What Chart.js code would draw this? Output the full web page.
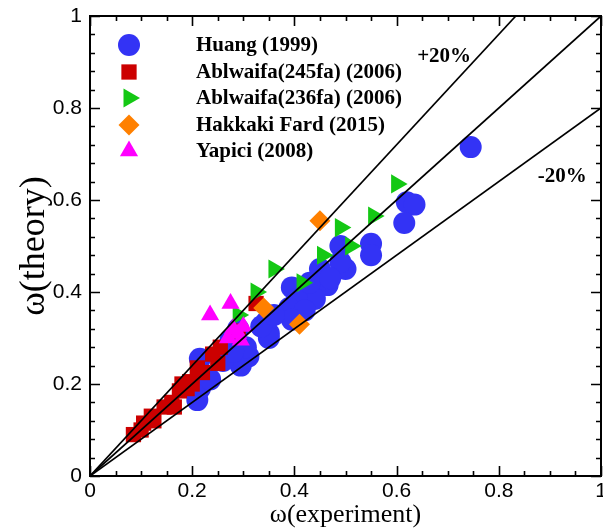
<!DOCTYPE html>
<html><head><meta charset="utf-8">
<script src="https://cdn.jsdelivr.net/npm/chart.js@4.4.0/dist/chart.umd.min.js"></script>
<style>html,body{margin:0;padding:0;background:#fff}#wrap{width:603px;height:528px}</style>
</head><body><div id="wrap"><canvas id="c" width="603" height="528"></canvas></div>
<script>
// ---- data ----
const seriesNames = ['Huang (1999)', 'Ablwaifa(245fa) (2006)', 'Ablwaifa(236fa) (2006)', 'Hakkaki Fard (2015)', 'Yapici (2008)'];
const huangX = [0.745,0.62,0.635,0.615,0.55,0.55,0.49,0.5,0.49,0.45,0.465,0.44,0.44,0.395,0.405,0.39,0.42,0.395,0.35,0.345,0.35,0.335,0.31,0.295,0.305,0.275,0.29,0.22,0.215,0.235,0.21,0.215,0.26,0.28,0.43,0.47,0.36];
const huangY = [0.715,0.595,0.59,0.55,0.505,0.48,0.5,0.45,0.465,0.45,0.415,0.405,0.385,0.41,0.385,0.365,0.36,0.34,0.31,0.335,0.3,0.325,0.26,0.24,0.28,0.295,0.32,0.215,0.19,0.21,0.165,0.255,0.25,0.27,0.42,0.43,0.35];
const abl245X = [0.085,0.1,0.105,0.12,0.125,0.145,0.16,0.165,0.175,0.19,0.195,0.18,0.21,0.22,0.24,0.25,0.255,0.29,0.325,0.2];
const abl245Y = [0.09,0.1,0.115,0.13,0.12,0.15,0.16,0.15,0.185,0.19,0.205,0.2,0.235,0.225,0.265,0.245,0.28,0.315,0.375,0.2];
const abl236X = [0.6,0.555,0.49,0.51,0.455,0.415,0.36,0.325,0.29];
const abl236Y = [0.635,0.565,0.54,0.5,0.48,0.42,0.45,0.4,0.35];
const hakkakiX = [0.45,0.34,0.41];
const hakkakiY = [0.555,0.365,0.33];
const yapiciX = [0.235,0.275,0.28,0.295,0.3,0.27,0.29];
const yapiciY = [0.35,0.375,0.32,0.295,0.325,0.3,0.31];
// reference lines: y = x, y = 1.2x, y = 0.8x
const lineExactX = [0, 1], lineExactY = [0, 1];
const linePlusX = [0, 0.8333], linePlusY = [0, 1];
const lineMinusX = [0, 1], lineMinusY = [0, 0.8];
const bandLabels = ['+20%', '-20%'];
const bandLabelX = [0.693, 0.924];
const bandLabelY = [0.911, 0.652];
const xTickLabels = ['0','0.2','0.4','0.6','0.8','1'];
const yTickLabels = ['0','0.2','0.4','0.6','0.8','1'];

const pts = (xs, ys) => xs.map((x, i) => ({x, y: ys[i]}));

function pointDataset(label, xs, ys, color, style, radius, rotation, order) {
  return {type:'scatter', label, data: pts(xs, ys), backgroundColor: color, borderWidth: 0,
    pointStyle: style, pointRadius: radius, pointRotation: rotation, order};
}
function lineDataset(xs, ys) {
  return {type:'line', data: pts(xs, ys), borderColor:'#000', borderWidth:1.7, pointRadius:0,
    fill:false, tension:0, order:0, isRef:true};
}

const datasets = [
  pointDataset(seriesNames[0], huangX, huangY, '#3333f5', 'circle', 11, 0, 5),
  pointDataset(seriesNames[1], abl245X, abl245Y, '#cc0000', 'rect', 10.8, 0, 4),
  pointDataset(seriesNames[2], abl236X, abl236Y, '#14c814', 'triangle', 11, 90, 3),
  pointDataset(seriesNames[3], hakkakiX, hakkakiY, '#ff8000', 'rectRot', 10.5, 0, 2),
  pointDataset(seriesNames[4], yapiciX, yapiciY, '#ff00ff', 'triangle', 10.5, 0, 1),
  lineDataset(lineExactX, lineExactY),
  lineDataset(linePlusX, linePlusY),
  lineDataset(lineMinusX, lineMinusY)
];

function drawMarker(ctx, style, x, y, r, color, rotDeg) {
  ctx.save();
  ctx.fillStyle = color;
  ctx.translate(x, y);
  ctx.rotate(rotDeg * Math.PI / 180);
  ctx.beginPath();
  if (style === 'circle') ctx.arc(0, 0, r, 0, Math.PI * 2);
  else if (style === 'rect') { const s = r * Math.SQRT1_2; ctx.rect(-s, -s, 2 * s, 2 * s); }
  else if (style === 'rectRot') { ctx.moveTo(0, -r); ctx.lineTo(r, 0); ctx.lineTo(0, r); ctx.lineTo(-r, 0); ctx.closePath(); }
  else if (style === 'triangle') {
    let a = 0;
    ctx.moveTo(Math.sin(a) * r, -Math.cos(a) * r);
    a += 2 * Math.PI / 3; ctx.lineTo(Math.sin(a) * r, -Math.cos(a) * r);
    a += 2 * Math.PI / 3; ctx.lineTo(Math.sin(a) * r, -Math.cos(a) * r);
    ctx.closePath();
  }
  ctx.fill();
  ctx.restore();
}

const framePlugin = {
  id: 'frame',
  afterDatasetsDraw(chart) {
    const ctx = chart.ctx, a = chart.chartArea, xs = chart.scales.x, ys = chart.scales.y;
    ctx.save();
    ctx.strokeStyle = '#000';
    ctx.lineWidth = 2;
    ctx.strokeRect(a.left, a.top, a.right - a.left, a.bottom - a.top);
    ctx.lineWidth = 1.6;
    ctx.beginPath();
    for (let i = 0; i <= 20; i++) {
      const v = i * 0.05, px = Math.round(xs.getPixelForValue(v)) + 0.5;
      const len = (i % 4 === 0) ? 10 : 5;
      ctx.moveTo(px, a.bottom); ctx.lineTo(px, a.bottom - len);
      ctx.moveTo(px, a.top); ctx.lineTo(px, a.top + len);
    }
    for (let i = 0; i <= 25; i++) {
      const v = i * 0.04, py = Math.round(ys.getPixelForValue(v)) + 0.5;
      const len = (i % 5 === 0) ? 10 : 5;
      ctx.moveTo(a.left, py); ctx.lineTo(a.left + len, py);
      ctx.moveTo(a.right, py); ctx.lineTo(a.right - len, py);
    }
    ctx.stroke();
    ctx.restore();
  },
  afterDraw(chart) {
    const ctx = chart.ctx, xs = chart.scales.x, ys = chart.scales.y;
    ctx.save();
    ctx.fillStyle = '#000';
    ctx.font = 'bold 21px "Liberation Serif", "Times New Roman", serif';
    ctx.textBaseline = 'middle';
    ctx.textAlign = 'center';
    bandLabels.forEach((t, i) => ctx.fillText(t, xs.getPixelForValue(bandLabelX[i]), ys.getPixelForValue(bandLabelY[i])));
    // legend
    const rowY = [45, 72, 98, 125, 151];
    ctx.textAlign = 'left';
    chart.data.datasets.forEach((d, i) => {
      if (d.isRef) return;
      drawMarker(ctx, d.pointStyle, 129, rowY[i], d.pointRadius, d.backgroundColor, d.pointRotation);
      ctx.fillStyle = '#000';
      ctx.fillText(d.label, 196, rowY[i] + 1);
    });
    ctx.restore();
  }
};

new Chart(document.getElementById('c'), {
  data: { datasets },
  options: {
    responsive: false,
    animation: false,
    devicePixelRatio: 1,
    events: [],
    layout: { autoPadding: false, padding: { top: 16, right: 2, left: 0, bottom: 0 } },
    plugins: { legend: { display: false }, tooltip: { enabled: false } },
    scales: {
      x: {
        type: 'linear', min: 0, max: 1,
        grid: { display: false, drawTicks: false, tickLength: 0 }, border: { display: false },
        ticks: { stepSize: 0.2, padding: 3, color: '#000', maxRotation: 0,
          font: { family: '"Liberation Sans", Arial, sans-serif', size: 21 },
          callback: (v) => xTickLabels[Math.round(v * 5)] },
        title: { display: true, text: 'ω(experiment)', color: '#000',
          font: { family: '"Liberation Serif", "Times New Roman", serif', size: 26, lineHeight: 1 },
          padding: { top: 0, bottom: 0 } },
        afterFit: (s) => { s.height = 52; s.paddingLeft = 0; s.paddingRight = 0; }
      },
      y: {
        type: 'linear', min: 0, max: 1,
        grid: { display: false, drawTicks: false, tickLength: 0 }, border: { display: false },
        ticks: { stepSize: 0.2, padding: 8, color: '#000',
          font: { family: '"Liberation Sans", Arial, sans-serif', size: 21 },
          callback: (v) => yTickLabels[Math.round(v * 5)] },
        title: { display: true, text: 'ω(theory)', color: '#000',
          font: { family: '"Liberation Serif", "Times New Roman", serif', size: 36, lineHeight: 1 },
          padding: { top: 17, bottom: 0 } },
        afterFit: (s) => { s.width = 90; s.paddingTop = 0; s.paddingBottom = 0; }
      }
    }
  },
  plugins: [framePlugin]
});
</script></body></html>
